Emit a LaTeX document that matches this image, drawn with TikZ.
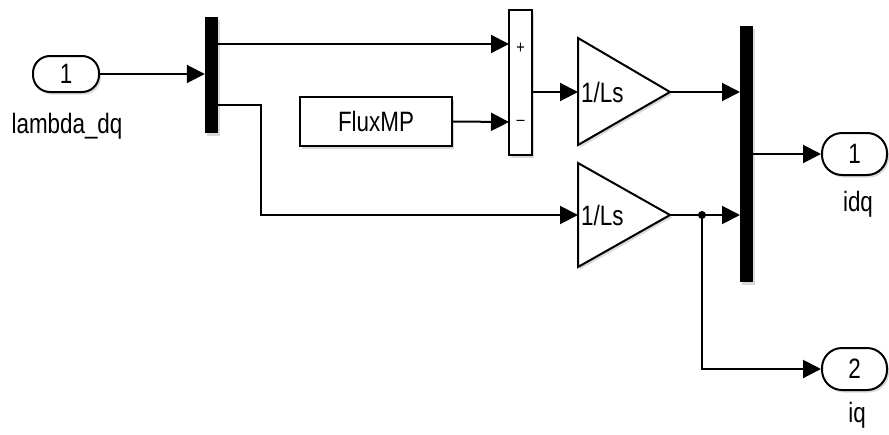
\documentclass[tikz,border=0pt]{standalone}
\usepackage{fontspec}
\setmainfont[FakeStretch=0.8]{Liberation Sans}
\usetikzlibrary{arrows.meta,shadows}
\begin{document}
\begin{tikzpicture}[x=1pt,y=-1pt,
  every node/.style={font=\fontsize{28}{30}\selectfont, inner sep=0pt},
  wire/.style={line width=2pt},
  arr/.style={wire,-{Triangle[length=18pt,width=18pt]}},
  shade/.style={drop shadow={shadow xshift=2pt,shadow yshift=-2.5pt,opacity=0.3}},
  blk/.style={draw, line width=2pt, fill=white, shade},
  port/.style={blk, rounded corners=17pt, minimum width=66pt, minimum height=36pt},
  bar/.style={fill=black, shade, minimum width=13pt},
  sign/.style={font=\fontsize{18}{20}\selectfont},
  gaintext/.style={anchor=west}
]
\useasboundingbox (0,0) rectangle (889,434);

% input port and demux
\node[port] (in1) at (66,74) {1};
\node (lab1) at (67,126) {lambda\_dq};
\node[bar, minimum height=116pt] (demux) at (211.5,75) {};

% sum block and constant
\node[blk, minimum width=23pt, minimum height=145pt] (sum) at (520.5,82.5) {};
\node[sign] (plus) at (520.5,48) {+};
\node[sign] (minus) at (520.5,123) {\textendash};
\node[blk, minimum width=152pt, minimum height=49pt] (flux) at (376,121.5) {FluxMP};

% gain blocks
\draw[blk] (578,38) -- (670,92) -- (578,145) -- cycle;
\coordinate (g1in) at (578,92);
\coordinate (g1out) at (670,92);
\node[gaintext] (g1) at (581,92) {1/Ls};
\draw[blk] (578,163) -- (670,215) -- (578,267) -- cycle;
\coordinate (g2in) at (578,215);
\coordinate (g2out) at (670,215);
\node[gaintext] (g2) at (581,215) {1/Ls};

% mux and output ports
\node[bar, minimum height=256pt] (mux) at (746.5,154) {};
\node[port, minimum width=65pt, minimum height=42pt, rounded corners=20pt] (out1) at (854.5,154) {1};
\node (lab2) at (858,204) {idq};
\node[port, minimum width=65pt, minimum height=42pt, rounded corners=20pt] (out2) at (854.5,369) {2};
\node (lab3) at (857,415) {iq};

% port positions
\coordinate (splus) at (509,44);
\coordinate (sminus) at (509,122);
\coordinate (sout) at (532,92);
\coordinate (d2) at (218,105);
\coordinate (m1) at (740,92);
\coordinate (m2) at (740,215);
\coordinate (junc) at (702,215);

% connectors
\draw[arr] (in1.east) -- (in1.east -| demux.west);
\draw[arr] (splus -| demux.east) -- (splus);
\draw[arr] (d2) -- (261,105) -- (261,215) -- (g2in);
\draw[arr] (flux.east) -- (sminus);
\draw[arr] (sout) -- (g1in);
\draw[arr] (g1out) -- (m1);
\draw[arr] (g2out) -- (m2);
\draw[arr] (mux.east) -- (out1.west);
\draw[arr] (junc) -- (junc |- out2) -- (out2.west);
\fill (junc) circle (4pt);
\end{tikzpicture}
\end{document}
